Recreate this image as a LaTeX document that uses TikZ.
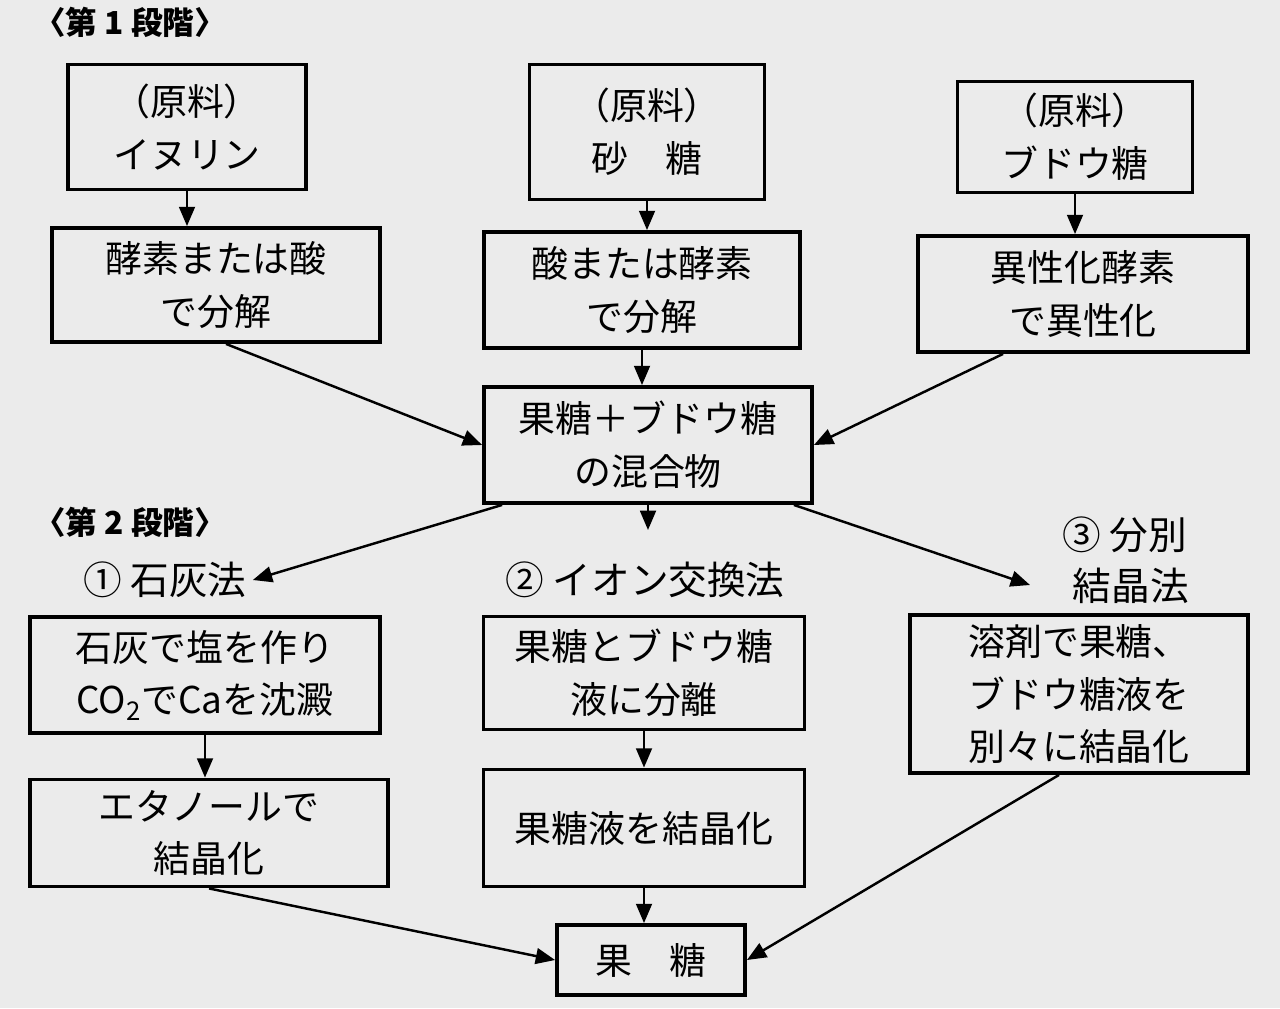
\documentclass[tikz,border=0pt]{standalone}
\usepackage{fontspec}
\setmainfont{Noto Sans CJK JP}
\usetikzlibrary{arrows.meta}
\begin{document}
\begin{tikzpicture}[x=0.02cm,y=-0.02cm,
  bx/.style={draw,line width=2.2pt,align=center,inner sep=0pt,font=\fontsize{21}{30}\selectfont},
  lb/.style={align=center,font=\fontsize{22}{32}\selectfont},
  ar/.style={line width=1.4pt,-{Triangle[length=11pt,width=9pt]}}]
\fill[white!92!black] (0,0) rectangle (1280,1008);
\useasboundingbox (0,0) rectangle (1280,1008);
\node[lb,font=\bfseries\fontsize{18}{20}\selectfont] (s1) at (130,22) {〈第 1 段階〉};
\node[lb,font=\bfseries\fontsize{18}{20}\selectfont] (s2) at (130,522) {〈第 2 段階〉};
\node[bx,minimum width=4.76cm,minimum height=2.5cm] (a1) at (187,127) {（原料）\\イヌリン};
\node[bx,minimum width=4.7cm,minimum height=2.7cm] (a2) at (647,132) {（原料）\\砂\quad 糖};
\node[bx,minimum width=4.7cm,minimum height=2.22cm] (a3) at (1075,137) {（原料）\\ブドウ糖};
\node[bx,minimum width=6.56cm,minimum height=2.28cm] (b1) at (216,285) {酵素または酸\\で分解\hspace{3.2em}};
\node[bx,minimum width=6.32cm,minimum height=2.32cm] (b2) at (642,290) {酸または酵素\\で分解\hspace{3.2em}};
\node[bx,minimum width=6.6cm,minimum height=2.32cm] (b3) at (1083,294) {異性化酵素\\で異性化\hspace{1.6em}};
\node[bx,minimum width=6.56cm,minimum height=2.32cm] (c) at (648,445) {果糖＋ブドウ糖\\の混合物\hspace{3.2em}};
\node[lb] (l1) at (165,580) {① 石灰法};
\node[lb] (l2) at (645,580) {② イオン交換法};
\node[lb,font=\fontsize{22}{29}\selectfont] (l3) at (1125,560) {③ 分別\\\hspace{0.3em}結晶法};
\node[bx,minimum width=7cm,minimum height=2.32cm] (d1) at (205,675) {石灰で塩を作り\\CO\textsubscript{2}でCaを沈澱};
\node[bx,minimum width=6.42cm,minimum height=2.26cm] (d2) at (644,673) {果糖とブドウ糖\\液に分離\hspace{3em}};
\node[bx,minimum width=6.76cm,minimum height=3.16cm] (d3) at (1079,694) {溶剤で果糖、\\ブドウ糖液を\\別々に結晶化};
\node[bx,minimum width=7.16cm,minimum height=2.14cm] (e1) at (209,833) {エタノールで\\結晶化\hspace{3em}};
\node[bx,minimum width=6.42cm,minimum height=2.34cm] (e2) at (644,828) {果糖液を結晶化};
\node[bx,minimum width=3.76cm,minimum height=1.4cm] (f) at (651,960) {果\quad 糖};
\draw[ar] (a1) -- (a1|-b1.north);
\draw[ar] (a2) -- (a2|-b2.north);
\draw[ar] (a3) -- (a3|-b3.north);
\draw[ar] (b2) -- (b2|-c.north);
\draw[ar] (b1.south) ++(10,0) coordinate (p1) (p1) -- (c.west);
\draw[ar] (b3.south) ++(-80,0) coordinate (p3) (p3) -- (c.east);
\draw[ar] (c.south west) ++(20,0) coordinate (q1) (q1) -- (l1.east);
\draw[ar] (c.south) -- (648,530) coordinate (q2);
\draw[ar] (c.south east) ++(-20,0) coordinate (q3) (q3) -- (1030,585);
\draw[ar] (d1) -- (d1|-e1.north);
\draw[ar] (d2) -- (d2|-e2.north);
\draw[ar] (e1.south) -- (f.west);
\draw[ar] (e2) -- (e2|-f.north);
\draw[ar] (d3.south) ++(-20,0) coordinate (r3) (r3) -- (f.east);
\end{tikzpicture}
\end{document}
